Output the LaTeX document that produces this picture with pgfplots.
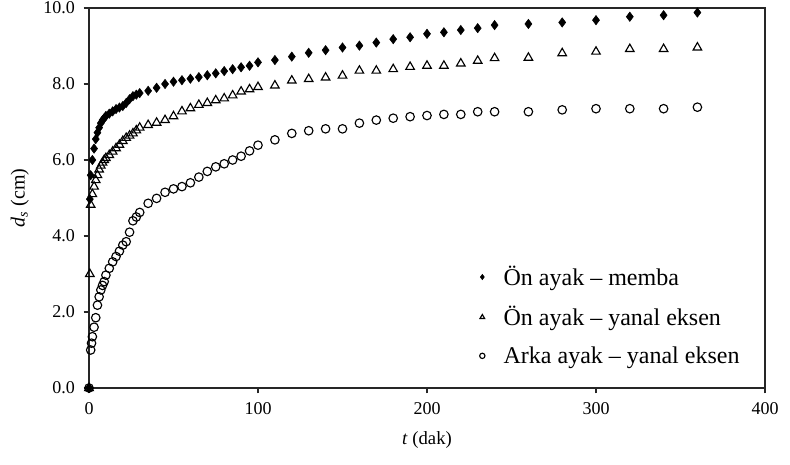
\documentclass[border=0pt]{standalone}
\usepackage{pgfplots}
\pgfplotsset{compat=1.18}
\usepackage{pgfplotstable}
\usepackage{fontspec}
\setmainfont{Liberation Serif}

\pgfplotstableread{
t d
0 0
0.5 4.97
1 5.6
2 6.0
3 6.3
4 6.55
5 6.72
6 6.85
7 6.97
8 7.05
9 7.1
10 7.16
12 7.22
14 7.28
16 7.34
18 7.38
20 7.42
22 7.5
24 7.6
26 7.68
28 7.72
30 7.76
35 7.82
40 7.9
45 8.0
50 8.06
55 8.1
60 8.14
65 8.18
70 8.23
75 8.28
80 8.34
85 8.39
90 8.44
95 8.48
100 8.57
110 8.63
120 8.72
130 8.82
140 8.89
150 8.96
160 9.01
170 9.09
180 9.18
190 9.23
200 9.32
210 9.36
220 9.42
230 9.47
240 9.55
260 9.58
280 9.62
300 9.68
320 9.77
340 9.81
360 9.88
}\memba

\pgfplotstableread{
t d
0 0
0.5 3.0
1 4.82
2 5.1
3 5.3
4 5.47
5 5.6
6 5.75
7 5.85
8 5.93
9 6.0
10 6.05
12 6.13
14 6.22
16 6.31
18 6.4
20 6.5
22 6.58
24 6.64
26 6.7
28 6.78
30 6.85
35 6.92
40 6.98
45 7.05
50 7.15
55 7.28
60 7.36
65 7.45
70 7.5
75 7.57
80 7.62
85 7.7
90 7.8
95 7.86
100 7.92
110 7.96
120 8.09
130 8.13
140 8.17
150 8.22
160 8.35
170 8.35
180 8.39
190 8.45
200 8.48
210 8.48
220 8.54
230 8.61
240 8.68
260 8.69
280 8.81
300 8.85
320 8.92
340 8.92
360 8.96
}\onyanal

\pgfplotstableread{
t d
0 0
1 1.0
1.5 1.18
2 1.35
3 1.6
4 1.85
5 2.18
6 2.4
7 2.58
8 2.7
9 2.8
10 2.97
12 3.15
14 3.32
16 3.46
18 3.6
20 3.76
22 3.85
24 4.1
26 4.4
28 4.5
30 4.62
35 4.86
40 4.99
45 5.15
50 5.24
55 5.3
60 5.4
65 5.55
70 5.7
75 5.82
80 5.9
85 6.0
90 6.1
95 6.24
100 6.39
110 6.53
120 6.7
130 6.77
140 6.82
150 6.82
160 6.97
170 7.05
180 7.1
190 7.14
200 7.17
210 7.2
220 7.2
230 7.27
240 7.27
260 7.27
280 7.32
300 7.35
320 7.35
340 7.35
360 7.39
}\arkayanal

\begin{document}
\begin{tikzpicture}[font=\fontsize{13.5}{16}\selectfont]
\begin{axis}[
  name=ax,
  scale only axis,
  width=507pt, height=285pt,
  xmin=0, xmax=400, ymin=0, ymax=10,
  xtick={0,100,200,300,400},
  ytick={0,2,4,6,8,10},
  tick align=outside,
  tick pos=left,
  major tick length=4pt,
  axis line style={line width=0.9pt, black!85},
  every tick/.style={black!85, line width=0.8pt},
  /pgf/number format/assume math mode=true,
  yticklabel style={xshift=-3pt, /pgf/number format/.cd, fixed, fixed zerofill, precision=1},
  xticklabel style={yshift=-3pt, /pgf/number format/.cd, fixed},
  xlabel={\textit{t} (dak)},
  ylabel={\textit{d}\textsubscript{\textit{s}} (cm)},
  xlabel style={yshift=-6pt, font=\fontsize{14}{16}\selectfont},
  ylabel style={yshift=4pt, font=\fontsize{15}{17}\selectfont},
  legend style={draw=none, fill=none, at={(axis cs:231,3.28)}, anchor=north west,
    row sep=10pt, column sep=10pt, font=\fontsize{18}{20}\selectfont, inner sep=0pt,
    nodes={inner xsep=4pt}},
  legend image post style={mark size=2pt},
  legend cell align=left,
]
\addplot[only marks, mark=diamond*, mark size=3.5pt, color=black] table[x=t,y=d]{\memba};
\addlegendentry{Ön ayak – memba}
\addplot[only marks, mark=triangle, mark size=3.7pt, color=black, mark options={line width=0.85pt}] table[x=t,y=d]{\onyanal};
\addlegendentry{Ön ayak – yanal eksen}
\addplot[only marks, mark=o, mark size=3.2pt, color=black, mark options={line width=0.85pt}] table[x=t,y=d]{\arkayanal};
\addlegendentry{Arka ayak – yanal eksen}
\end{axis}
\pgfresetboundingbox
\path[use as bounding box] ([xshift=-66.75pt, yshift=-57pt]ax.south west) rectangle ([xshift=18.75pt, yshift=6pt]ax.north east);
\end{tikzpicture}
\end{document}
